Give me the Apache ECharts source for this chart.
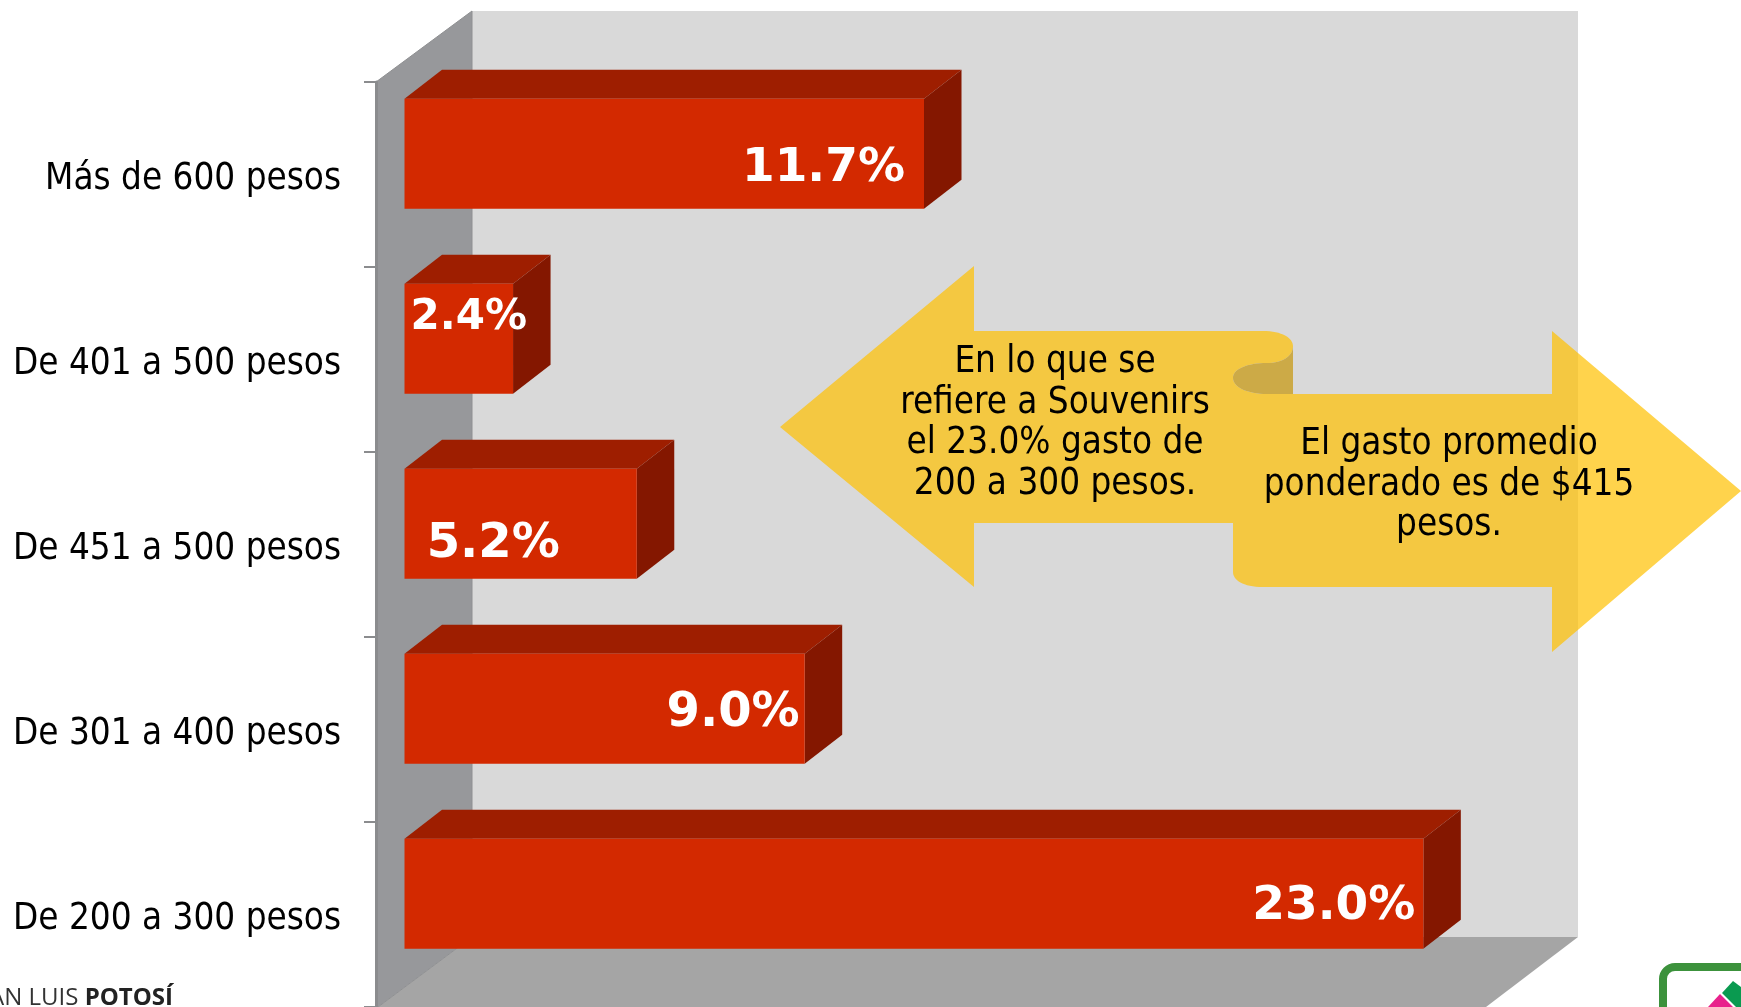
<!DOCTYPE html>
<html>
<head>
<meta charset="utf-8">
<style>html,body{margin:0;padding:0;background:#fff}#main{width:1741px;height:1007px}</style>
<script src="https://cdn.jsdelivr.net/npm/echarts@6/dist/echarts.min.js"></script>
</head>
<body>
<div id="main"></div>
<script>
var categories = ['Más de 600 pesos', 'De 401 a 500 pesos', 'De 451 a 500 pesos', 'De 301 a 400 pesos', 'De 200 a 300 pesos'];
var values = [11.7, 2.4, 5.2, 9.0, 23.0];
var valueLabels = ['11.7%', '2.4%', '5.2%', '9.0%', '23.0%'];

// labels were moved by hand in the original: right edge from bar end, centre from band centre, font size
var labelPos = [[-19, -6, 47], [14, -41, 42], [-77, 0, 48], [-5, -16, 48], [-8, -8, 47]];

var leftNote = ['En lo que se', 'refiere a Souvenirs', 'el 23.0% gasto de', '200 a 300 pesos.'];
var rightNote = ['El gasto promedio', 'ponderado es de $415', 'pesos.'];

var font = '"DejaVu Sans Condensed", "DejaVu Sans", sans-serif';
var boldFont = '"DejaVu Sans", sans-serif';
var depthX = 37.5, depthY = 29;

function renderBar(params, api) {
    var i = api.value(1);
    var end = api.coord([api.value(0), i]);
    var start = api.coord([0, i]);
    var band = api.size([0, 1])[1];
    var top = end[1] - band * 0.41;
    var h = band * 0.595;
    var x0 = start[0] - 2.5, x1 = end[0];
    var lp = labelPos[i];
    return {
        type: 'group',
        children: [
            { type: 'polygon', shape: { points: [[x0, top], [x0 + depthX, top - depthY], [x1 + depthX, top - depthY], [x1, top]] }, style: { fill: '#9e1e00' } },
            { type: 'polygon', shape: { points: [[x1, top], [x1 + depthX, top - depthY], [x1 + depthX, top + h - depthY], [x1, top + h]] }, style: { fill: '#841700' } },
            { type: 'rect', shape: { x: x0, y: top, width: x1 - x0, height: h }, style: { fill: '#d32900' } },
            { type: 'text', style: { x: x1 + lp[0], y: end[1] + lp[1], text: valueLabels[i], fill: '#fff', font: 'bold ' + lp[2] + 'px ' + boldFont, align: 'right', verticalAlign: 'middle' } }
        ]
    };
}

// the ribbon arrow behind the two notes
function renderRibbon() {
    return {
        type: 'group',
        children: [
            { type: 'path', shape: { pathData: 'M780 427 L974 266 L974 331 L1263 331 C1282 331 1293 338 1293 346 C1293 356 1283 363 1267 363 C1247 363 1233 369 1233 378 C1233 387 1247 394 1267 394 L1552 394 L1552 331 L1741 491 L1552 652 L1552 587 L1263 587 C1243 587 1233 580 1233 572 L1233 523 L974 523 L974 587 Z' }, style: { fill: 'rgba(255,192,0,0.7)' } },
            { type: 'path', shape: { pathData: 'M1293 346 C1293 356 1283 363 1267 363 C1247 363 1233 369 1233 378 C1233 387 1247 394 1267 394 L1293 394 Z' }, style: { fill: '#ccaa47' } }
        ]
    };
}

function noteText(lines, x, y) {
    return lines.map(function (t, i) {
        return { type: 'text', z: 12, style: { x: x, y: y + i * 40.5, text: t, fill: '#000', font: '36.5px ' + font, align: 'center', verticalAlign: 'middle' } };
    });
}

var chart = echarts.init(document.getElementById('main'));
chart.setOption({
    animation: false,
    backgroundColor: '#fff',
    grid: { left: 407, top: 82, width: 1171, height: 929, containLabel: false },
    xAxis: { type: 'value', min: 0, max: 26.5, show: false },
    yAxis: {
        type: 'category',
        inverse: true,
        offset: 31,
        data: categories,
        axisLine: { show: true, onZero: false, lineStyle: { color: '#8b8c8e', width: 3 } },
        axisTick: { show: true, length: 12, lineStyle: { color: '#8b8c8e', width: 2 } },
        axisLabel: {
            margin: 35,
            formatter: '{v|{value}}',
            rich: { v: { color: '#000', fontSize: 36.5, fontFamily: font, padding: [11, 0, 0, 0] } }
        }
    },
    series: [{
        type: 'custom',
        z: 5,
        renderItem: renderBar,
        encode: { x: 0, y: 1 },
        data: values.map(function (v, i) { return [v, i]; })
    }, {
        type: 'custom',
        coordinateSystem: 'none',
        z: 6,
        silent: true,
        renderItem: renderRibbon,
        data: [0]
    }],
    graphic: [
        { type: 'rect', z: 0, shape: { x: 472, y: 11, width: 1106, height: 926 }, style: { fill: '#d9d9d9' } },
        { type: 'polygon', z: 0, shape: { points: [[472, 937], [1578, 937], [1486, 1007], [378, 1007]] }, style: { fill: '#a5a5a5' } },
        { type: 'polygon', z: 0, shape: { points: [[376, 82], [472, 11], [472, 937], [378, 1007], [376, 1007]] }, style: { fill: '#97989b', stroke: '#8f9092', lineWidth: 1 } },
        // logo corner
        { type: 'rect', z: 1, shape: { x: 1663, y: 967, width: 120, height: 80, r: 12 }, style: { fill: '#fff', stroke: '#3c923c', lineWidth: 8 } },
        { type: 'polygon', z: 2, shape: { points: [[1708, 1007], [1720, 994], [1733, 1007]] }, style: { fill: '#e8228c' } },
        { type: 'polygon', z: 2, shape: { points: [[1722, 993], [1733, 981], [1741, 987], [1741, 1007], [1736, 1007]] }, style: { fill: '#0a9a50' } },
        { type: 'text', z: 12, style: { x: 173, y: 998, text: '{r|SAN LUIS }{b|POTOSÍ}', align: 'right', verticalAlign: 'middle', rich: {
            r: { fill: '#333', font: '24px "Open Sans", sans-serif' },
            b: { fill: '#222', font: 'bold 24px "Open Sans", sans-serif' }
        } } }
    ].concat(noteText(leftNote, 1055, 363), noteText(rightNote, 1449, 445))
});
</script>
</body>
</html>
